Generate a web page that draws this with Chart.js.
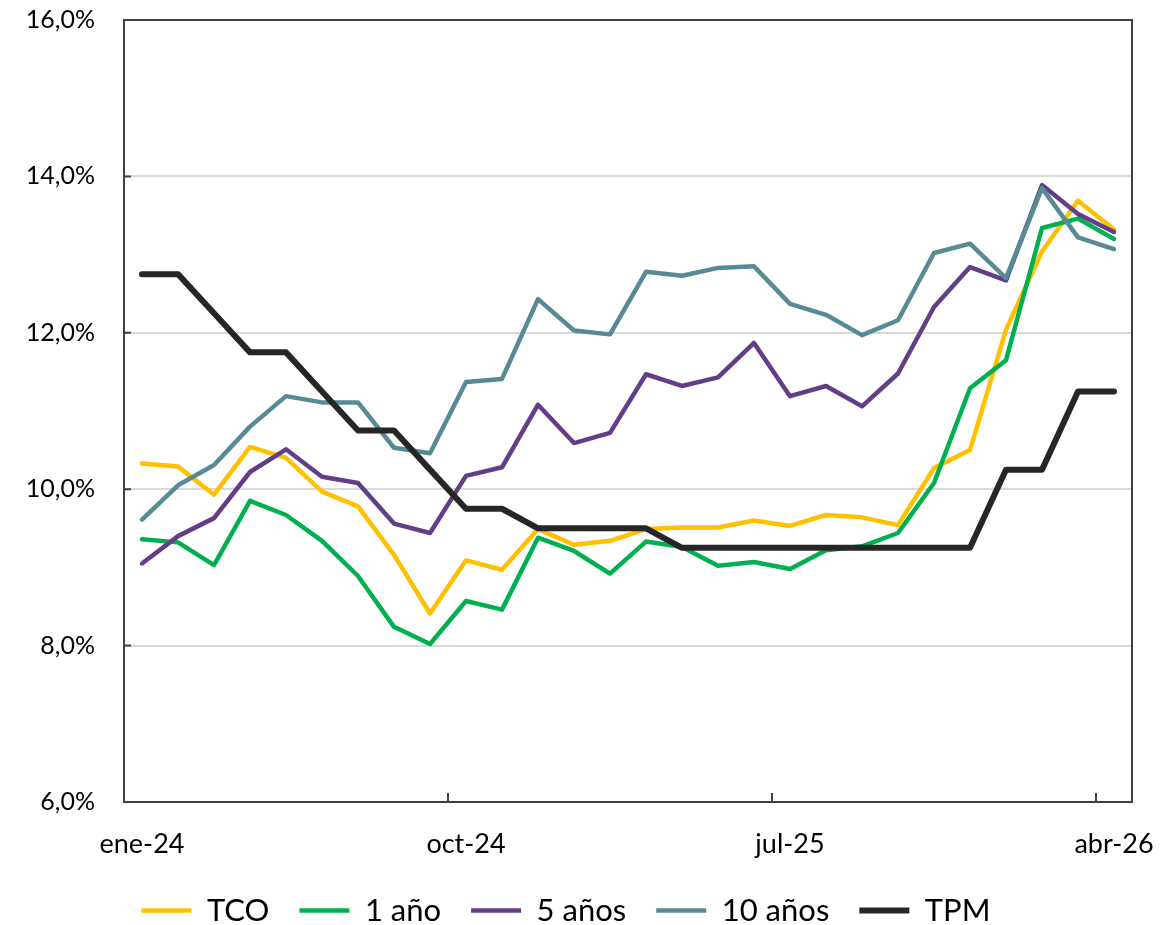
<!DOCTYPE html>
<html>
<head>
<meta charset="utf-8">
<script src="https://cdn.jsdelivr.net/npm/chart.js@4.4.1/dist/chart.umd.min.js"></script>
<style>
  html, body { margin: 0; padding: 0; background: #fff; }
  #wrap { width: 1168px; height: 925px; }
</style>
</head>
<body>
<div id="wrap"><canvas id="chart"></canvas></div>
<script>
// Meses (ene-24 .. abr-26)
const months = [
  'ene-24', 'feb-24', 'mar-24', 'abr-24', 'may-24', 'jun-24', 'jul-24', 'ago-24', 'sep-24', 'oct-24', 'nov-24', 'dic-24',
  'ene-25', 'feb-25', 'mar-25', 'abr-25', 'may-25', 'jun-25', 'jul-25', 'ago-25', 'sep-25', 'oct-25', 'nov-25', 'dic-25',
  'ene-26', 'feb-26', 'mar-26', 'abr-26'
];
const shownTicks = ['ene-24', 'oct-24', 'jul-25', 'abr-26'];

const tco = [10.33, 10.29, 9.93, 10.54, 10.40, 9.97, 9.78, 9.16, 8.41, 9.09, 8.97, 9.49, 9.29, 9.34,
  9.49, 9.51, 9.51, 9.60, 9.53, 9.67, 9.64, 9.54, 10.27, 10.50, 12.04, 13.04, 13.69, 13.32];
const y1 = [9.36, 9.32, 9.03, 9.85, 9.67, 9.34, 8.89, 8.24, 8.02, 8.57, 8.46, 9.38, 9.21, 8.92,
  9.33, 9.26, 9.02, 9.07, 8.98, 9.22, 9.27, 9.44, 10.08, 11.29, 11.65, 13.34, 13.46, 13.20];
const y5 = [9.05, 9.40, 9.63, 10.22, 10.51, 10.16, 10.08, 9.56, 9.44, 10.17, 10.28, 11.08, 10.59, 10.72,
  11.47, 11.32, 11.43, 11.87, 11.19, 11.32, 11.06, 11.48, 12.33, 12.84, 12.67, 13.89, 13.52, 13.29];
const y10 = [9.61, 10.05, 10.31, 10.80, 11.19, 11.11, 11.11, 10.53, 10.46, 11.37, 11.41, 12.43, 12.03, 11.98,
  12.78, 12.73, 12.83, 12.85, 12.37, 12.23, 11.97, 12.16, 13.02, 13.14, 12.70, 13.85, 13.22, 13.07];
const tpm = [12.75, 12.75, 12.25, 11.75, 11.75, 11.25, 10.75, 10.75, 10.25, 9.75, 9.75, 9.5, 9.5, 9.5,
  9.5, 9.25, 9.25, 9.25, 9.25, 9.25, 9.25, 9.25, 9.25, 9.25, 10.25, 10.25, 11.25, 11.25];

const FONT = 'Lato, "Open Sans", sans-serif';

function series(label, data, color, width, order) {
    return {
        label: label,
        data: data,
        borderColor: color,
        backgroundColor: color,
        borderWidth: width,
        borderCapStyle: 'round',
        borderJoinStyle: 'round',
        pointRadius: 0,
        pointHoverRadius: 0,
        tension: 0,
        order: order
    };
}

// the axes should not push the plot area in
function noScalePadding(scale) {
    scale.paddingTop = 0;
    scale.paddingBottom = 0;
    scale.paddingLeft = 0;
    scale.paddingRight = 0;
}

// Marco del gráfico y marcas de eje hacia adentro
const framePlugin = {
    id: 'frame',
    afterDraw(chart) {
        const { ctx, chartArea: a, scales: { x, y } } = chart;
        ctx.save();
        ctx.strokeStyle = '#404040';
        ctx.lineWidth = 2;
        ctx.strokeRect(a.left, a.top, a.right - a.left, a.bottom - a.top);
        ctx.beginPath();
        y.ticks.forEach(t => {
            const py = y.getPixelForValue(t.value);
            ctx.moveTo(a.left, py);
            ctx.lineTo(a.left + 7, py);
        });
        shownTicks.slice(1).forEach(lbl => {
            const i = months.indexOf(lbl);
            const px = (x.getPixelForValue(i - 1) + x.getPixelForValue(i)) / 2;
            ctx.moveTo(px, a.bottom);
            ctx.lineTo(px, a.bottom - 9);
        });
        ctx.stroke();
        ctx.restore();
    }
};

const ctx = document.getElementById('chart').getContext('2d');
new Chart(ctx, {
    type: 'line',
    data: {
        labels: months,
        datasets: [
            series('TCO', tco, '#FFC000', 4.5, 5),
            series('1 año', y1, '#00B050', 4.5, 4),
            series('5 años', y5, '#633E87', 4.5, 3),
            series('10 años', y10, '#578A94', 4.5, 2),
            series('TPM', tpm, '#262626', 6, 1)
        ]
    },
    options: {
        responsive: true,
        maintainAspectRatio: false,
        animation: false,
        layout: { padding: { left: 0, right: 36, top: 20, bottom: -11 } },
        plugins: {
            tooltip: { enabled: false },
            legend: {
                position: 'bottom',
                labels: {
                    usePointStyle: true,
                    pointStyle: 'line',
                    pointStyleWidth: 50,
                    padding: 30,
                    color: '#000',
                    font: { family: FONT, size: 31 },
                    sort: (a, b) => a.datasetIndex - b.datasetIndex
                }
            }
        },
        scales: {
            x: {
                type: 'category',
                offset: true,
                grid: { display: false, drawTicks: false },
                border: { display: false },
                ticks: {
                    autoSkip: false,
                    maxRotation: 0,
                    padding: 26,
                    color: '#000',
                    font: { family: FONT, size: 27 },
                    callback: function (value) {
                        const lbl = this.getLabelForValue(value);
                        return shownTicks.includes(lbl) ? lbl : '';
                    }
                },
                afterFit: (scale) => { scale.height = 63; noScalePadding(scale); }
            },
            y: {
                min: 6,
                max: 16,
                grid: { color: '#d9d9d9', lineWidth: 2, drawTicks: false },
                border: { display: false },
                ticks: {
                    stepSize: 2,
                    padding: 29,
                    color: '#000',
                    font: { family: FONT, size: 25 },
                    callback: (v) => v.toFixed(1).replace('.', ',') + '%'
                },
                afterFit: (scale) => { scale.width = 124; noScalePadding(scale); }
            }
        }
    },
    plugins: [framePlugin]
});
</script>
</body>
</html>
